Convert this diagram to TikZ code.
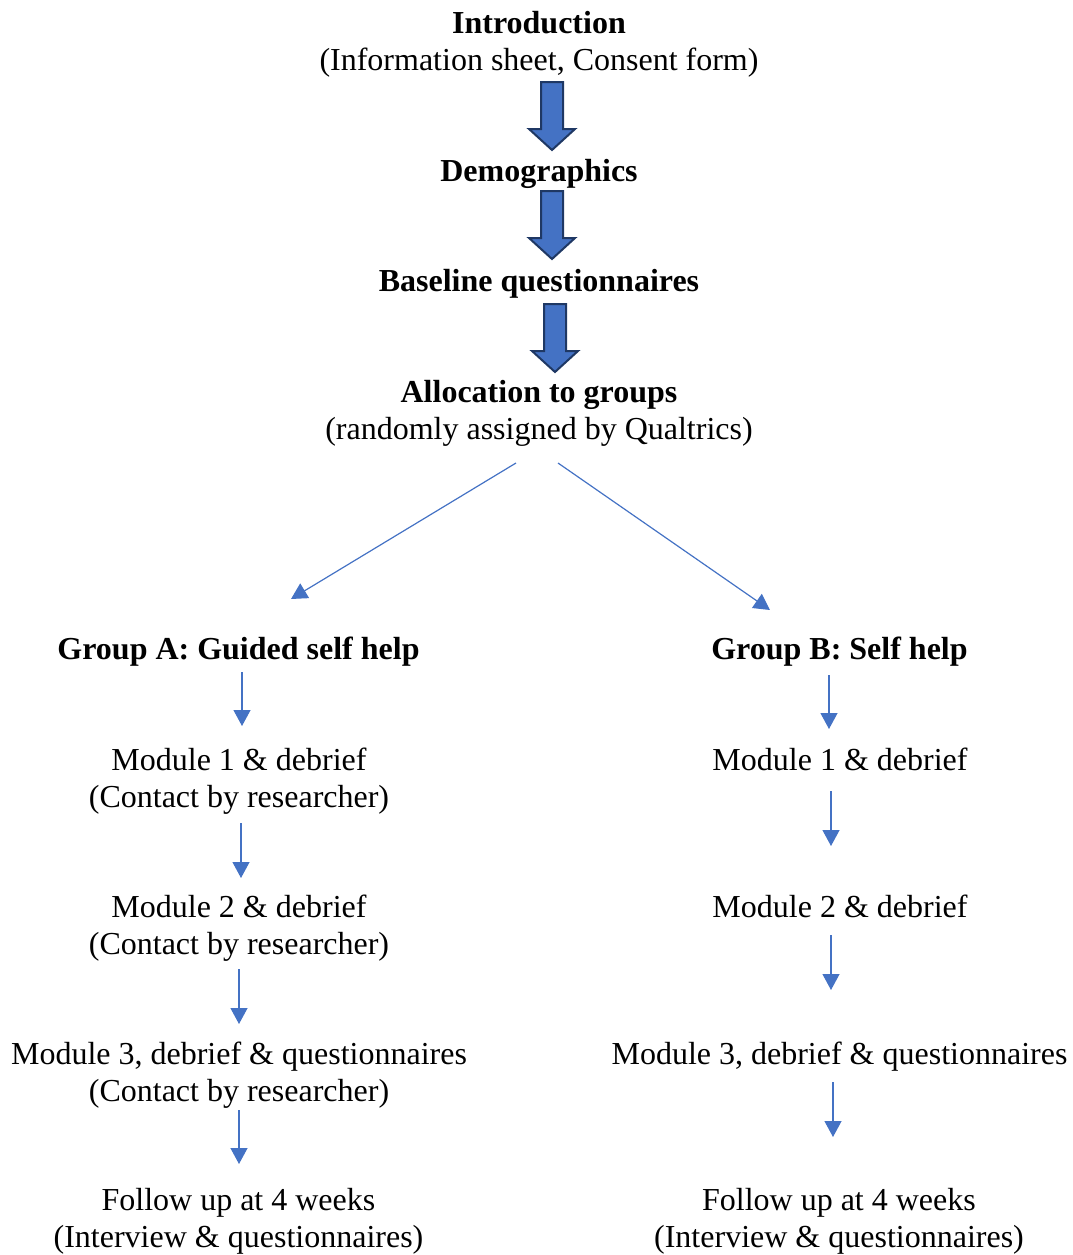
\documentclass[tikz,border=0pt]{standalone}
\usepackage{fontspec}
\setmainfont{Liberation Serif}
\usetikzlibrary{arrows.meta}
\definecolor{ablue}{HTML}{4472C4}
\definecolor{navy}{HTML}{1F3864}
\begin{document}
\begin{tikzpicture}[x=1pt,y=-1pt,
  txt/.style={align=center,inner sep=0pt,font=\fontsize{32}{37}\selectfont},
  thin/.style={draw=ablue,line width=1.2pt,-{Triangle[width=17pt,length=16pt]},ablue},
  blockarr/.style={fill=ablue,draw=navy,line width=2pt,line join=miter}]
\useasboundingbox (0,0) rectangle (1073,1255);
% top column
\node[txt] (intro) at (539,44) {\textbf{Introduction}\\(Information sheet, Consent form)};
\node[txt] (demo) at (539,174) {\textbf{Demographics}};
\node[txt] (base) at (539,284) {\textbf{Baseline questionnaires}};
\node[txt] (alloc) at (539,413) {\textbf{Allocation to groups}\\(randomly assigned by Qualtrics)};
% block arrows
\foreach \cx/\ty in {552/82, 552/191, 555/304}{
  \draw[blockarr] (\cx-11,\ty) -- (\cx+11,\ty) -- (\cx+11,\ty+47) -- (\cx+23,\ty+47)
     -- (\cx,\ty+68) -- (\cx-23,\ty+47) -- (\cx-11,\ty+47) -- cycle;
}
% groups
\node[txt] (ga) at (238.5,652) {\textbf{Group A: Guided self help}};
\node[txt] (gb) at (839.5,652) {\textbf{Group B: Self help}};
\coordinate (splitL) at (516,463);
\coordinate (splitR) at (558,463);
\coordinate (tipL) at (291,599);
\coordinate (tipR) at (770,610);
\draw[thin] (splitL) -- (tipL);
\draw[thin] (splitR) -- (tipR);
% left column
\node[txt] (a1) at (239,781) {Module 1 \& debrief\\(Contact by researcher)};
\node[txt] (a2) at (239,928) {Module 2 \& debrief\\(Contact by researcher)};
\node[txt] (a3) at (239,1075) {Module 3, debrief \& questionnaires\\(Contact by researcher)};
\node[txt] (a4) at (238.5,1221.5) {Follow up at 4 weeks\\(Interview \& questionnaires)};
% right column
\node[txt] (b1) at (840,759) {Module 1 \& debrief};
\node[txt] (b2) at (840,906) {Module 2 \& debrief};
\node[txt] (b3) at (839.5,1056.5) {Module 3, debrief \& questionnaires};
\node[txt] (b4) at (839,1221.5) {Follow up at 4 weeks\\(Interview \& questionnaires)};
% thin vertical arrows
\coordinate (a0s) at (242,672); \coordinate (a1t) at (242,726);
\coordinate (a1s) at (241,823); \coordinate (a2t) at (241,878);
\coordinate (a2s) at (239,969); \coordinate (a3t) at (239,1024);
\coordinate (a3s) at (239,1110); \coordinate (a4t) at (239,1164);
\coordinate (b0s) at (829,675); \coordinate (b1t) at (829,729);
\coordinate (b1s) at (831,791); \coordinate (b2t) at (831,846);
\coordinate (b2s) at (831,935); \coordinate (b3t) at (831,990);
\coordinate (b3s) at (833,1082); \coordinate (b4t) at (833,1137);
\draw[thin] (a0s) -- (a1t);
\draw[thin] (a1s) -- (a2t);
\draw[thin] (a2s) -- (a3t);
\draw[thin] (a3s) -- (a4t);
\draw[thin] (b0s) -- (b1t);
\draw[thin] (b1s) -- (b2t);
\draw[thin] (b2s) -- (b3t);
\draw[thin] (b3s) -- (b4t);
\end{tikzpicture}
\end{document}
